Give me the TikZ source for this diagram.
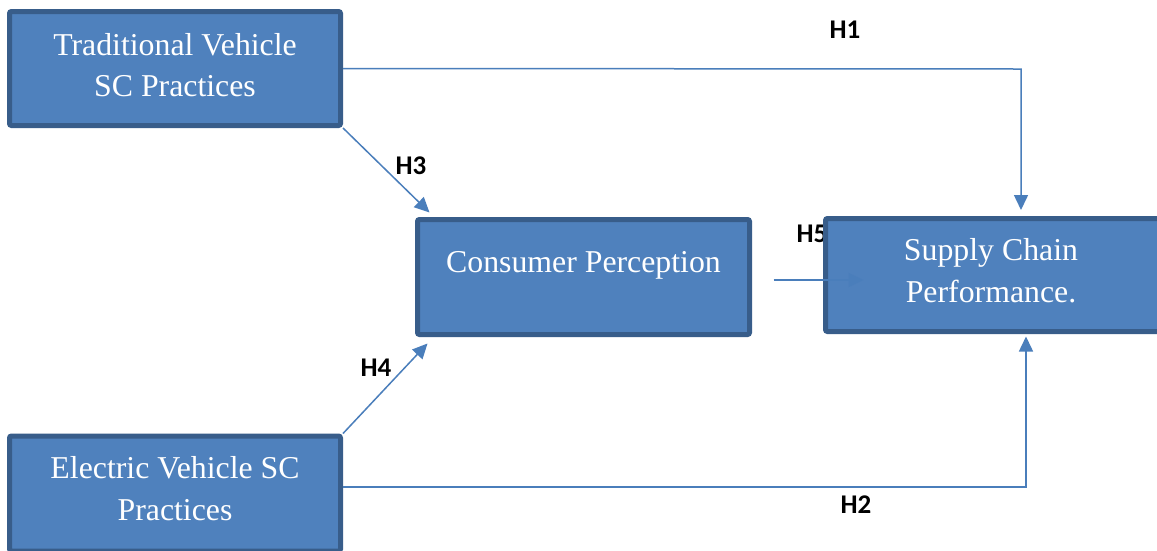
\documentclass[tikz,border=0pt]{standalone}
\usepackage{fontspec}
\setmainfont{Liberation Serif}
\newfontfamily\labfont{Carlito}
\usetikzlibrary{arrows.meta,calc}
\definecolor{boxfill}{HTML}{4F81BD}
\definecolor{boxline}{HTML}{385D8A}
\definecolor{connline}{HTML}{4A7EBB}
\tikzset{
  box/.style={draw=boxline, fill=boxfill, line width=5pt, rounded corners=2pt,
    inner sep=0pt},
  boxtext/.style={text=white, align=center, inner sep=0pt,
    font=\fontsize{31.8}{41.5}\selectfont},
  conn/.style={draw=connline, line width=1.5pt, -{Triangle[length=15pt,width=14pt]}},
  hlab/.style={font=\labfont\bfseries\fontsize{27}{30}\selectfont, inner sep=0pt}
}
\begin{document}
\begin{tikzpicture}[x=1pt,y=-1pt]
\useasboundingbox (0,0) rectangle (1157,550);
\fill[white] (0,0) rectangle (1157,550);
% label partly hidden behind the right box
\node[hlab] (h5) at (812,234) {H5};
% boxes
\node[box, minimum width=331pt, minimum height=114pt] (tv) at (175,68.5) {};
\node[boxtext] (tvt) at (175,65) {Traditional Vehicle\\SC Practices};
\node[box, minimum width=332pt, minimum height=115pt] (cp) at (583.5,277) {};
\node[boxtext] (cpt) at (583.5,265) {Consumer Perception};
\node[box, minimum width=334pt, minimum height=113pt] (scp) at (992.5,275) {};
\node[boxtext] (scpt) at (991,270.5) {Supply Chain\\Performance.};
\node[box, minimum width=331pt, minimum height=115pt] (ev) at (175,493.5) {};
\node[boxtext] (evt) at (175,488.5) {Electric Vehicle SC\\Practices};
% connectors
\coordinate (h1c) at (1021,69);
\draw[conn, shorten >=6pt] (tv.east) -- (h1c) -- (h1c |- scp.north);
\coordinate (h2c) at (1026,487);
\draw[conn, shorten >=2.5pt] (ev.east |- h2c) -- (h2c) -- (h2c |- scp.south);
\draw[conn] (tv.south east) -- ($(cp.north west)+(14.5,-4.5)$);
\draw[conn] (ev.north east) -- ($(cp.south west)+(12.5,6.5)$);
\draw[conn] ($(cp.east)+(21.5,3)$) -- ($(scp.west)+(40.5,5)$);
% labels
\node[hlab] (h1) at (845,30) {H1};
\node[hlab] (h3) at (411,166) {H3};
\node[hlab] (h4) at (376,368) {H4};
\node[hlab] (h2) at (856,505) {H2};
\end{tikzpicture}
\end{document}
